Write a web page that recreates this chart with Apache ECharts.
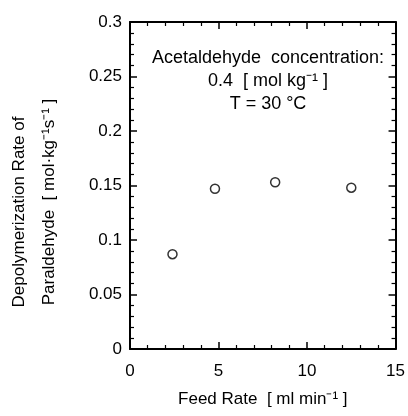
<!DOCTYPE html>
<html>
<head>
<meta charset="utf-8">
<script src="https://cdn.jsdelivr.net/npm/echarts@6/dist/echarts.min.js"></script>
<style>
  html, body { margin: 0; padding: 0; background: #fff; }
  #chart { width: 408px; height: 416px; }
</style>
</head>
<body>
<div id="chart"></div>
<script>
// 读图得到的数据
var feedRate = [2.4, 4.8, 8.2, 12.5];
var depolyRate = [0.087, 0.147, 0.153, 0.148];
var xTicks = [0, 5, 10, 15];
var yTicks = [0, 0.05, 0.1, 0.15, 0.2, 0.25, 0.3];
var noteLines = ['Acetaldehyde  concentration:', '0.4  [ mol kg⁻¹ ]', 'T = 30 °C'];
var yTitle = ['Depolymerization Rate of', 'Paraldehyde  [ mol·kg⁻¹s⁻¹ ]'];

var points = feedRate.map(function (x, i) { return [x, depolyRate[i]]; });
var font = 'Liberation Sans, Arial, sans-serif';

var myChart = echarts.init(document.getElementById('chart'));

function axisCommon(extra) {
    var a = {
        axisLine: { show: true, onZero: false, lineStyle: { color: '#000', width: 2 } },
        axisTick: { show: true, inside: true, length: 7, lineStyle: { color: '#000', width: 1.5 } },
        minorTick: { show: true, splitNumber: 5, length: 4, lineStyle: { color: '#000', width: 1.2 } },
        splitLine: { show: false },
        minorSplitLine: { show: false }
    };
    for (var k in extra) a[k] = extra[k];
    return a;
}

// 图内注释 + 纵轴标题
var graphics = noteLines.map(function (t, i) {
    return {
        type: 'text', x: 268, y: 58 + i * 23,
        style: {
            text: t, align: 'center', verticalAlign: 'middle',
            fill: '#000', fontSize: 18, fontFamily: font
        }
    };
});
graphics.push({
    type: 'text', x: 19, y: 212, rotation: Math.PI / 2,
    style: { text: yTitle[0], align: 'center', verticalAlign: 'middle', fill: '#000', fontSize: 17, fontFamily: font }
});
graphics.push({
    type: 'text', x: 49, y: 202, rotation: Math.PI / 2,
    style: { text: yTitle[1], align: 'center', verticalAlign: 'middle', fill: '#000', fontSize: 17, fontFamily: font }
});

option = {
    backgroundColor: '#fff',
    animation: false,
    grid: { left: 130, right: 10, top: 22, bottom: 67 },
    xAxis: [
        axisCommon({
            type: 'value', min: xTicks[0], max: xTicks[xTicks.length - 1], interval: 5,
            axisLabel: { color: '#000', fontSize: 17, fontFamily: font, margin: 14 },
            name: 'Feed Rate  [ ml min⁻¹ ]',
            nameLocation: 'middle', nameGap: 42,
            nameTextStyle: { color: '#000', fontSize: 17, fontFamily: font }
        }),
        axisCommon({
            type: 'value', position: 'top', min: 0, max: 15, interval: 5,
            axisLabel: { show: false }
        })
    ],
    yAxis: [
        axisCommon({
            type: 'value', min: yTicks[0], max: yTicks[yTicks.length - 1], interval: 0.05,
            axisLabel: { color: '#000', fontSize: 17, fontFamily: font, margin: 8 }
        }),
        axisCommon({
            type: 'value', position: 'right', min: 0, max: 0.3, interval: 0.05,
            axisLabel: { show: false }
        })
    ],
    graphic: graphics,
    series: [
        {
            name: 'rate',
            type: 'scatter',
            data: points,
            symbol: 'circle',
            symbolSize: 9,
            itemStyle: { color: '#fff', borderColor: '#000', borderWidth: 1.5 }
        }
    ]
};
myChart.setOption(option);
</script>
</body>
</html>
